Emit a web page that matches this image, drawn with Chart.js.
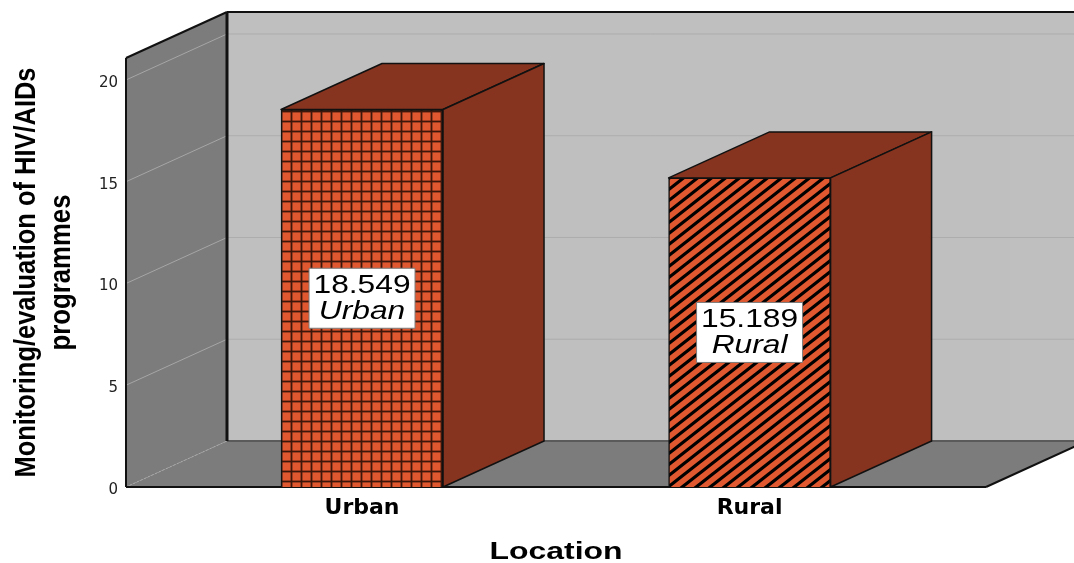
<!DOCTYPE html>
<html>
<head>
<meta charset="utf-8">
<style>
	html, body { margin: 0; padding: 0; background: #fff; }
	canvas { display: block; }
</style>
<script src="https://cdn.jsdelivr.net/npm/chart.js@4/dist/chart.umd.min.js"></script>
</head>
<body>
<canvas id="chart" width="1074" height="563"></canvas>
<script>
const categories = ['Urban', 'Rural'];
const values = [18.549, 15.189];
const yTicks = [0, 5, 10, 15, 20];
const yTitle = ['Monitoring/evaluation of HIV/AIDs', 'programmes'];
const xTitle = 'Location';

// depth of the fake 3d box, in pixels
const DEPTH_X = 101;
const DEPTH_Y = -46;

function grid_pattern() {
	const c = document.createElement('canvas');
	c.width = 10;
	c.height = 10;
	const g = c.getContext('2d');
	g.fillStyle = '#e0582f';
	g.fillRect(0, 0, 10, 10);
	// soft edged lines, the original is slightly blurred
	g.fillStyle = 'rgba(60, 22, 11, 0.4)';
	g.fillRect(0, 0, 3, 10);
	g.fillRect(0, 0, 10, 3);
	g.fillStyle = '#3c160b';
	g.fillRect(1, 0, 1, 10);
	g.fillRect(0, 1, 10, 1);
	return g.createPattern(c, 'repeat');
}

function hatch_pattern() {
	const w = 14;
	const h = 11;
	const c = document.createElement('canvas');
	c.width = w;
	c.height = h;
	const g = c.getContext('2d');
	g.fillStyle = '#e0582f';
	g.fillRect(0, 0, w, h);
	g.strokeStyle = '#000';
	g.lineWidth = 3.2;
	g.beginPath();
	for (let k = -1; k <= 1; k++) {
		g.moveTo(-w, 2 * h + k * h);
		g.lineTo(2 * w, -h + k * h);
	}
	g.stroke();
	return g.createPattern(c, 'repeat');
}

function poly(ctx, pts, fill, stroke, width) {
	ctx.beginPath();
	pts.forEach((p, i) => i ? ctx.lineTo(p[0], p[1]) : ctx.moveTo(p[0], p[1]));
	ctx.closePath();
	if (fill) {
		ctx.fillStyle = fill;
		ctx.fill();
	}
	if (stroke) {
		ctx.strokeStyle = stroke;
		ctx.lineWidth = width;
		ctx.lineJoin = 'round';
		ctx.stroke();
	}
}

function line(ctx, x1, y1, x2, y2, color, width) {
	ctx.beginPath();
	ctx.moveTo(x1, y1);
	ctx.lineTo(x2, y2);
	ctx.strokeStyle = color;
	ctx.lineWidth = width;
	ctx.stroke();
}

const box_plugin = {
	id: 'box',
	beforeDatasetsDraw(chart) {
		const { ctx, chartArea: a, scales: { y } } = chart;
		const bx = a.left + DEPTH_X;
		const W = chart.width;
		const topB = a.top + DEPTH_Y;
		const botB = a.bottom + DEPTH_Y;

		ctx.save();
		// back wall
		ctx.fillStyle = '#bfbfbf';
		ctx.fillRect(bx, topB, W - bx, botB - topB);
		// floor
		poly(ctx, [[a.left, a.bottom], [a.right, a.bottom], [a.right + DEPTH_X, botB], [bx, botB]], '#7c7c7c');
		// left wall
		poly(ctx, [[a.left, a.top], [bx, topB], [bx, botB], [a.left, a.bottom]], '#7c7c7c');

		y.ticks.forEach(t => {
			if (t.value === 0) {
				return;
			}
			const py = y.getPixelForValue(t.value);
			line(ctx, bx, py + DEPTH_Y, W, py + DEPTH_Y, '#adadad', 1);
			line(ctx, a.left, py, bx, py + DEPTH_Y, '#a6a6a6', 1);
		});

		ctx.setLineDash([2, 2]);
		line(ctx, a.left, a.bottom, bx, botB, '#a8a8a8', 1);
		ctx.setLineDash([]);

		line(ctx, bx, botB, W, botB, '#5a5a5a', 2);
		line(ctx, bx, topB, W, topB, '#111', 2);
		line(ctx, bx, topB, bx, botB, '#111', 3);
		line(ctx, a.left, a.top, bx, topB, '#111', 2);
		line(ctx, a.left, a.top, a.left, a.bottom, '#111', 2);
		line(ctx, a.left, a.bottom, a.right, a.bottom, '#111', 2);
		line(ctx, a.right, a.bottom, a.right + DEPTH_X, botB, '#111', 2);
		ctx.restore();
	},
	afterDatasetsDraw(chart) {
		const { ctx } = chart;
		const bars = chart.getDatasetMeta(0).data;

		ctx.save();
		bars.forEach(bar => {
			const l = bar.x - bar.width / 2;
			const r = bar.x + bar.width / 2;
			poly(ctx, [[l, bar.y], [r, bar.y], [r + DEPTH_X, bar.y + DEPTH_Y], [l + DEPTH_X, bar.y + DEPTH_Y]], '#86341f', '#111', 1.5);
			poly(ctx, [[r, bar.y], [r + DEPTH_X, bar.y + DEPTH_Y], [r + DEPTH_X, bar.base + DEPTH_Y], [r, bar.base]], '#86341f', '#111', 1.5);
		});

		// value boxes in the middle of each bar
		bars.forEach((bar, i) => {
			const my = (bar.y + bar.base) / 2;
			ctx.fillStyle = '#fff';
			ctx.fillRect(bar.x - 53, my - 30, 106, 60);
			ctx.strokeStyle = '#7a7a7a';
			ctx.lineWidth = 1;
			ctx.strokeRect(bar.x - 53, my - 30, 106, 60);

			ctx.fillStyle = '#000';
			ctx.textAlign = 'center';
			ctx.textBaseline = 'middle';
			ctx.save();
			ctx.translate(bar.x, my);
			ctx.scale(1.27, 1);
			ctx.font = '25px "Liberation Sans"';
			ctx.fillText(values[i].toFixed(3), 0, -12);
			ctx.font = 'italic 25px "Liberation Sans"';
			ctx.fillText(categories[i], 0, 14);
			ctx.restore();
		});
		ctx.restore();
	},
	afterDraw(chart) {
		// the axis titles are squeezed / stretched in the original, so they are drawn here
		const { ctx, chartArea: a } = chart;
		ctx.save();
		ctx.fillStyle = '#000';
		ctx.textAlign = 'center';
		ctx.textBaseline = 'middle';

		ctx.save();
		ctx.translate(27, (a.top + a.bottom) / 2);
		ctx.rotate(-Math.PI / 2);
		ctx.font = 'bold 29px "Liberation Sans"';
		ctx.fillText(yTitle[0], 0, 0, 410);
		ctx.fillText(yTitle[1], 0, 35, 156);
		ctx.restore();

		ctx.translate((a.left + a.right) / 2, 552);
		ctx.scale(1.33, 1);
		ctx.font = 'bold 24px "Liberation Sans"';
		ctx.fillText(xTitle, 0, 0);
		ctx.restore();
	}
};

new Chart(document.getElementById('chart'), {
	type: 'bar',
	data: {
		datasets: [{
			data: categories.map((c, i) => ({ x: i, y: values[i] })),
			backgroundColor: [grid_pattern(), hatch_pattern()],
			borderColor: '#111',
			borderWidth: 1.5,
			barThickness: 162
		}]
	},
	plugins: [box_plugin],
	options: {
		responsive: false,
		animation: false,
		layout: { padding: { top: 58, right: 88 } },
		plugins: {
			legend: { display: false },
			tooltip: { enabled: false }
		},
		scales: {
			x: {
				type: 'linear',
				offset: false,
				min: -0.609,
				max: 1.61,
				grid: { display: false },
				border: { display: false },
				afterBuildTicks: s => { s.ticks = categories.map((c, i) => ({ value: i })); },
				afterFit: s => { s.height = 76; },
				ticks: {
					callback: v => categories[v],
					autoSkip: false,
					maxRotation: 0,
					color: '#000',
					padding: 0,
					font: { family: '"DejaVu Sans"', size: 22, weight: 'bold' }
				}
			},
			y: {
				min: 0,
				max: 21.08,
				grid: { display: false },
				border: { display: false },
				afterBuildTicks: s => { s.ticks = yTicks.map(v => ({ value: v })); },
				afterFit: s => { s.width = 126; },
				ticks: {
					// blank first line pushes the number a little under its grid line
					callback: v => ['', String(v)],
					color: '#222',
					padding: 0,
					includeBounds: false,
					font: { family: '"DejaVu Sans"', size: 15, lineHeight: 0.4 }
				}
			}
		}
	}
});
</script>
</body>
</html>
